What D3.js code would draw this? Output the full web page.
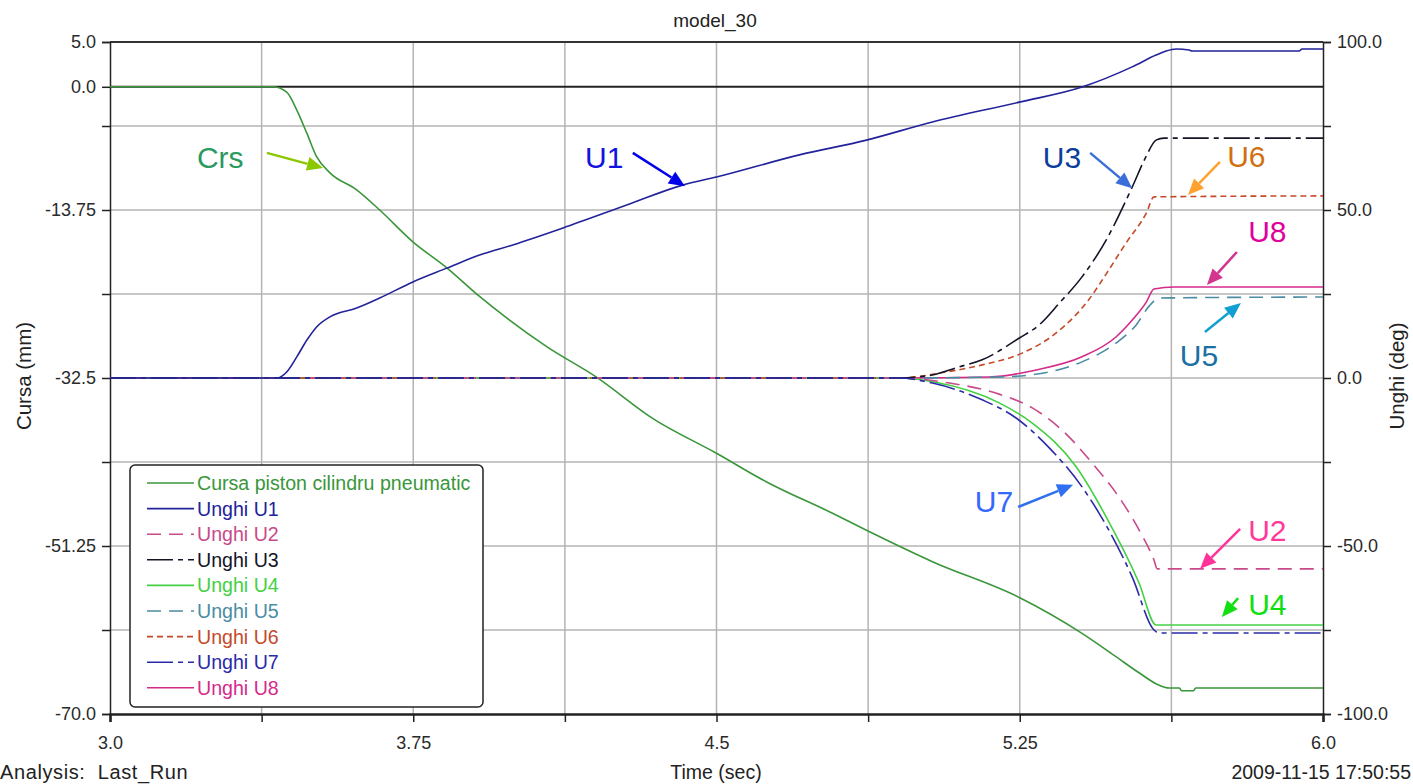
<!DOCTYPE html>
<html>
<head>
<meta charset="utf-8">
<script src="https://cdn.jsdelivr.net/npm/d3@7"></script>
<style>
body { margin: 0; background: #fff; }
text { font-family: "Liberation Sans", Arial, sans-serif; }
</style>
</head>
<body>
<svg width="1413" height="784"></svg>
<script>
// ---- data ----
var crsT = [3.0, 3.403, 3.437, 3.462, 3.487, 3.511, 3.544, 3.610, 3.667, 3.749, 3.833, 3.914, 3.981, 4.080, 4.203, 4.342, 4.500, 4.624, 4.787, 4.871, 5.034, 5.249, 5.404, 5.488, 5.545, 5.595, 5.619, 5.645, 5.650, 5.680, 5.685, 6.0];
var crsV = [0, 0, -0.6, -2.6, -5.2, -7.8, -9.6, -11.5, -13.75, -17.3, -20.2, -23.4, -25.8, -29.0, -32.4, -37.0, -40.9, -44.1, -47.6, -49.5, -53.0, -57.0, -61.0, -63.6, -65.4, -66.8, -67.1, -67.1, -67.4, -67.4, -67.1, -67.1];

var u1T = [3.0, 3.413, 3.437, 3.462, 3.487, 3.511, 3.544, 3.610, 3.667, 3.749, 3.833, 3.914, 3.996, 4.119, 4.285, 4.416, 4.500, 4.705, 4.871, 5.034, 5.249, 5.404, 5.528, 5.587, 5.612, 5.637, 5.669, 5.676, 5.941, 5.948, 6.0];
var u1V = [0, 0, 1.8, 6.3, 11.3, 15.2, 18.2, 20.8, 23.8, 28.6, 32.7, 36.6, 39.6, 44.6, 51.8, 57.4, 59.8, 66.4, 70.8, 76.2, 82.1, 86.6, 92.6, 96.1, 97.3, 97.9, 97.6, 97.3, 97.3, 97.9, 97.9];

var u2T = [3.0, 4.95, 5.076, 5.199, 5.281, 5.365, 5.429, 5.488, 5.545, 5.582, 5.590, 6.0];
var u2V = [0, 0, -1.5, -4.8, -8.9, -16.7, -25.3, -34.2, -45.2, -54.2, -56.8, -56.8];

var u3T = [3.0, 4.95, 5.034, 5.100, 5.157, 5.249, 5.298, 5.348, 5.404, 5.464, 5.528, 5.562, 5.587, 5.607, 6.0];
var u3V = [0, 0, 0.9, 3.3, 5.4, 11.9, 15.8, 22.3, 30.1, 41.1, 56.8, 65.8, 70.8, 71.4, 71.4];

var u4T = [3.0, 4.95, 5.039, 5.199, 5.281, 5.390, 5.464, 5.545, 5.587, 6.0];
var u4V = [0, 0, -1.2, -7.4, -13.4, -26.5, -41.4, -61.0, -73.5, -73.5];

var u5T = [3.0, 4.95, 5.199, 5.323, 5.404, 5.488, 5.538, 5.570, 5.595, 6.0];
var u5V = [0, 0, 0.3, 1.8, 4.8, 10.4, 15.8, 21.4, 23.8, 24.1];

var u6T = [3.0, 4.95, 5.068, 5.157, 5.256, 5.340, 5.422, 5.464, 5.513, 5.563, 5.582, 6.0];
var u6V = [0, 0, 1.8, 3.9, 7.4, 13.4, 23.5, 31.0, 40.2, 49.1, 53.9, 54.2];

var u7T = [3.0, 4.95, 5.034, 5.157, 5.241, 5.323, 5.404, 5.446, 5.528, 5.582, 5.595, 6.0];
var u7V = [0, 0, -1.5, -6.5, -11.9, -20.8, -32.4, -40.2, -59.2, -75.0, -75.9, -75.9];

var u8T = [3.0, 4.95, 5.175, 5.291, 5.404, 5.488, 5.533, 5.563, 5.582, 5.632, 6.0];
var u8V = [0, 0, 0.3, 2.4, 6.3, 12.2, 17.9, 22.6, 26.5, 27.1, 27.1];

var legendNames = ["Cursa piston cilindru pneumatic", "Unghi U1", "Unghi U2", "Unghi U3", "Unghi U4", "Unghi U5", "Unghi U6", "Unghi U7", "Unghi U8"];

var xTicks = [3.0, 3.375, 3.75, 4.125, 4.5, 4.875, 5.25, 5.625, 6.0];
var xLabels = [3.0, 3.75, 4.5, 5.25, 6.0];
var leftTicks = [5.0, 0.0, -4.375, -13.75, -23.125, -32.5, -41.875, -51.25, -60.625, -70.0];
var leftLabels = [5.0, 0.0, -13.75, -32.5, -51.25, -70.0];
var rightTicks = [100, 75, 50, 25, 0, -25, -50, -75, -100];
var rightLabels = [100, 50, 0, -50, -100];

// annotations: label, text pos [t, deg], arrow from [t, deg] to [t, deg]
var noteLabels = ["Crs", "U1", "U3", "U6", "U8", "U5", "U7", "U2", "U4"];
var noteText = [[3.215, 62.5], [4.175, 62.5], [5.307, 62.5], [5.763, 62.8], [5.815, 40.5], [5.646, 3.6], [5.139, -39.9], [5.815, -48.5], [5.815, -70.5]];
var noteFrom = [[3.388, 67.0], [4.293, 67.0], [5.424, 67.0], [5.745, 64.3], [5.787, 37.5], [5.708, 13.7], [5.246, -38.4], [5.795, -44.9], [5.790, -65.5]];
var noteTo = [[3.527, 62.5], [4.422, 57.1], [5.528, 56.5], [5.666, 54.5], [5.713, 27.7], [5.797, 22.3], [5.382, -31.8], [5.696, -56.8], [5.750, -71.1]];

// ---- styles ----
var lineColors = ["#3a963a", "#22229a", "#c84a8a", "#141428", "#44d044", "#4a8ca4", "#c44a2a", "#2a2aa8", "#d42a8a"];
var lineDash = [null, null, "14,8", "26,5,5,5", null, "14,8", "6,4", "26,5,5,5", null];
var noteColors = ["#2a9a5e", "#1212e0", "#0c3c9c", "#d07012", "#e0009c", "#1a70a2", "#3468ff", "#ff3a9a", "#10e010"];
var arrowColors = ["#8cc800", "#0000ee", "#3a6ed8", "#ffa030", "#d2368e", "#12a0d2", "#3070f0", "#ff3399", "#12e012"];

var svg = d3.select("svg");
var pLeft = 110, pRight = 1323, pTop = 42, pBottom = 714;

var x = d3.scaleLinear().domain([3, 6]).range([pLeft, pRight]);
var yL = d3.scaleLinear().domain([-70, 5]).range([pBottom, pTop]);
var yR = d3.scaleLinear().domain([-100, 100]).range([pBottom, pTop]);

function fmtL(d) { return Number.isInteger(d) ? d.toFixed(1) : String(d); }

// grid
var grid = svg.append("g").attr("stroke", "#b4b4b4").attr("stroke-width", 1.5);
xTicks.slice(1, -1).forEach(function (t) {
    grid.append("line").attr("x1", x(t)).attr("x2", x(t)).attr("y1", pTop).attr("y2", pBottom);
});
rightTicks.slice(1, -1).forEach(function (v) {
    grid.append("line").attr("x1", pLeft).attr("x2", pRight).attr("y1", yR(v)).attr("y2", yR(v));
});

// zero line of left axis and frame
svg.append("line").attr("x1", pLeft).attr("x2", pRight).attr("y1", yL(0)).attr("y2", yL(0))
    .attr("stroke", "#222").attr("stroke-width", 2);
svg.append("line").attr("x1", pLeft).attr("x2", pRight).attr("y1", pTop).attr("y2", pTop)
    .attr("stroke", "#333").attr("stroke-width", 2);

// axes
var axL = svg.append("g").attr("transform", "translate(" + pLeft + ",0)")
    .call(d3.axisLeft(yL).tickValues(leftTicks).tickSize(8).tickPadding(6)
        .tickFormat(function (d) { return leftLabels.indexOf(d) >= 0 ? fmtL(d) : ""; }));
var axR = svg.append("g").attr("transform", "translate(" + pRight + ",0)")
    .call(d3.axisRight(yR).tickValues(rightTicks).tickSize(8).tickPadding(6)
        .tickFormat(function (d) { return rightLabels.indexOf(d) >= 0 ? d.toFixed(1) : ""; }));
var axB = svg.append("g").attr("transform", "translate(0," + pBottom + ")")
    .call(d3.axisBottom(x).tickValues(xTicks).tickSize(8).tickPadding(14)
        .tickFormat(function (d) { return xLabels.indexOf(d) >= 0 ? fmtL(d) : ""; }));
[axL, axR, axB].forEach(function (a) {
    a.select(".domain").attr("stroke", "#222").attr("stroke-width", 1.5);
    a.selectAll(".tick line").attr("stroke", "#222").attr("stroke-width", 1.5);
    a.selectAll("text").attr("font-size", 18).attr("fill", "#2a2a2a")
        .attr("font-family", "'Liberation Sans', Arial, sans-serif");
});
axB.select(".domain").attr("stroke-width", 2.5);

// series
var series = [[crsT, crsV, yL], [u1T, u1V, yR], [u2T, u2V, yR], [u3T, u3V, yR], [u4T, u4V, yR],
    [u5T, u5V, yR], [u6T, u6V, yR], [u7T, u7V, yR], [u8T, u8V, yR]];
var drawOrder = [0, 8, 4, 5, 6, 2, 1, 3, 7];
drawOrder.forEach(function (i) {
    var s = series[i];
    var line = d3.line().curve(d3.curveMonotoneX)
        .x(function (d) { return x(d[0]); }).y(function (d) { return s[2](d[1]); });
    svg.append("path")
        .datum(d3.zip(s[0], s[1]))
        .attr("d", line)
        .attr("fill", "none")
        .attr("stroke", lineColors[i])
        .attr("stroke-width", 1.6)
        .attr("stroke-dasharray", lineDash[i]);
});

// legend
var lg = svg.append("g");
lg.append("rect").attr("x", 130).attr("y", 465).attr("width", 353).attr("height", 242)
    .attr("rx", 5).attr("fill", "#fff").attr("stroke", "#222").attr("stroke-width", 1.5);
legendNames.forEach(function (n, i) {
    var yy = 483 + i * 25.6;
    lg.append("line").attr("x1", 147).attr("x2", 194).attr("y1", yy).attr("y2", yy)
        .attr("stroke", lineColors[i]).attr("stroke-width", 1.6).attr("stroke-dasharray", lineDash[i]);
    lg.append("text").attr("x", 197).attr("y", yy + 7).attr("font-size", 19.6)
        .attr("fill", lineColors[i]).text(n);
});

// annotations
noteLabels.forEach(function (lab, i) {
    svg.append("text").attr("x", x(noteText[i][0])).attr("y", yR(noteText[i][1]))
        .attr("font-size", 30).attr("fill", noteColors[i]).text(lab);
    var x1 = x(noteFrom[i][0]), y1 = yR(noteFrom[i][1]);
    var x2 = x(noteTo[i][0]), y2 = yR(noteTo[i][1]);
    var ang = Math.atan2(y2 - y1, x2 - x1);
    var hl = 16, hw = 7;
    var bx = x2 - hl * Math.cos(ang), by = y2 - hl * Math.sin(ang);
    svg.append("line").attr("x1", x1).attr("y1", y1).attr("x2", bx).attr("y2", by)
        .attr("stroke", arrowColors[i]).attr("stroke-width", 2.5);
    var px = -Math.sin(ang) * hw, py = Math.cos(ang) * hw;
    svg.append("polygon")
        .attr("points", [[x2, y2], [bx + px, by + py], [bx - px, by - py]].map(function (p) { return p.join(","); }).join(" "))
        .attr("fill", arrowColors[i]);
});

// titles
svg.append("text").attr("x", 715).attr("y", 27).attr("text-anchor", "middle").attr("font-size", 19).attr("fill", "#222").text("model_30");
svg.append("text").attr("x", 716).attr("y", 779).attr("text-anchor", "middle").attr("font-size", 19.5).attr("fill", "#222").text("Time (sec)");
svg.append("text").attr("x", 0).attr("y", 779).attr("font-size", 20).attr("letter-spacing", 0.6).attr("fill", "#222")
    .style("white-space", "pre").text("Analysis:  Last_Run");
svg.append("text").attr("x", 1411).attr("y", 779).attr("text-anchor", "end").attr("font-size", 19.5).attr("fill", "#222").text("2009-11-15 17:50:55");
svg.append("text").attr("transform", "translate(31,376) rotate(-90)").attr("text-anchor", "middle").attr("font-size", 20.5).attr("fill", "#222").text("Cursa (mm)");
svg.append("text").attr("transform", "translate(1404,376) rotate(-90)").attr("text-anchor", "middle").attr("font-size", 20.5).attr("fill", "#222").text("Unghi (deg)");
</script>
</body>
</html>
